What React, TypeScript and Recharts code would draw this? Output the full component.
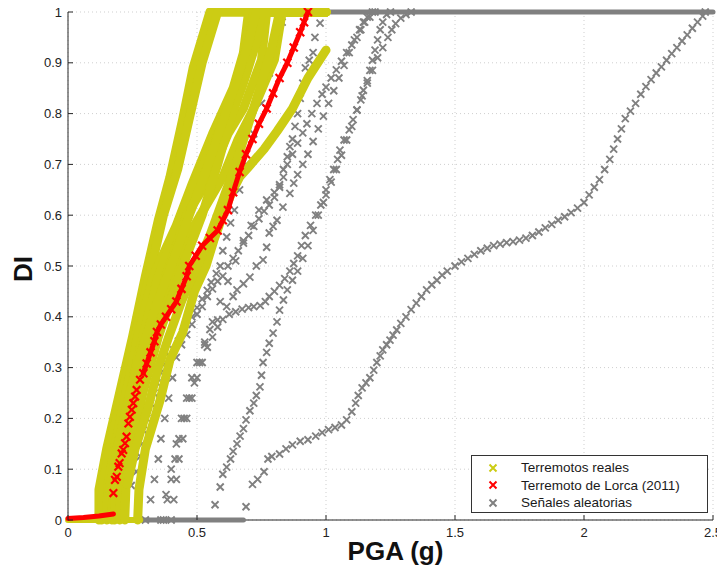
import React from 'react';
import { ScatterChart, Scatter, XAxis, YAxis, CartesianGrid } from 'recharts';

type Pt = [number, number];

// Axis ticks
const xTicks = [0, 0.5, 1, 1.5, 2, 2.5];
const yTicks = [0, 0.1, 0.2, 0.3, 0.4, 0.5, 0.6, 0.7, 0.8, 0.9, 1];

// Legend labels
const seriesNames = ['Terremotos reales', 'Terremoto de Lorca (2011)', 'Señales aleatorias'];

// Real earthquakes: DI against PGA (g)
const real1: Pt[] = [[0.12,0],[0.12,0.06],[0.15,0.14],[0.2,0.25],[0.25,0.36],[0.3,0.48],[0.35,0.59],[0.395,0.675],[0.445,0.79],[0.485,0.89],[0.55,1],[1,1]];
const real2: Pt[] = [[0.13,0],[0.135,0.07],[0.165,0.15],[0.215,0.26],[0.265,0.37],[0.315,0.48],[0.37,0.6],[0.425,0.69],[0.47,0.79],[0.52,0.9],[0.58,1],[1,1]];
const real3: Pt[] = [[0.15,0],[0.155,0.07],[0.18,0.14],[0.225,0.25],[0.27,0.36],[0.33,0.48],[0.42,0.58],[0.48,0.66],[0.56,0.76],[0.64,0.85],[0.68,0.92],[0.7,1],[1,1]];
const real4: Pt[] = [[0.17,0],[0.175,0.07],[0.2,0.14],[0.24,0.25],[0.29,0.36],[0.35,0.48],[0.43,0.59],[0.5,0.675],[0.58,0.76],[0.64,0.81],[0.69,0.906],[0.72,1],[1,1]];
const real5: Pt[] = [[0.18,0],[0.185,0.07],[0.21,0.14],[0.255,0.25],[0.31,0.36],[0.38,0.48],[0.46,0.6],[0.55,0.675],[0.62,0.76],[0.68,0.81],[0.75,0.906],[0.77,1],[1,1]];
const real6: Pt[] = [[0.2,0],[0.205,0.07],[0.23,0.14],[0.27,0.25],[0.33,0.36],[0.41,0.48],[0.49,0.58],[0.6,0.675],[0.66,0.75],[0.72,0.81],[0.8,0.906],[0.83,1],[1,1]];
const real7: Pt[] = [[0.22,0],[0.225,0.07],[0.245,0.14],[0.29,0.25],[0.35,0.36],[0.43,0.48],[0.52,0.6],[0.58,0.7],[0.63,0.79],[0.68,0.86],[0.73,0.94],[0.75,1],[1,1]];
const real8: Pt[] = [[0.27,0],[0.275,0.06],[0.3,0.14],[0.357,0.236],[0.395,0.315],[0.445,0.37],[0.49,0.45],[0.535,0.5],[0.565,0.55],[0.6,0.6],[0.635,0.645],[0.665,0.675],[0.7,0.695],[0.76,0.73],[0.81,0.765],[0.87,0.81],[0.93,0.87],[1,0.925]];
const real9: Pt[] = [[0.23,0.07],[0.26,0.14],[0.31,0.22],[0.35,0.3],[0.39,0.36],[0.44,0.43],[0.5,0.5],[0.55,0.56],[0.6,0.63],[0.65,0.7],[0.7,0.78],[0.75,0.86],[0.79,0.93],[0.82,1],[1,1]];
const real10: Pt[] = [[0.16,0.06],[0.19,0.14],[0.24,0.25],[0.29,0.34],[0.34,0.42],[0.4,0.5],[0.47,0.6],[0.53,0.68],[0.59,0.77],[0.65,0.86],[0.7,0.94],[0.73,1],[1,1]];
const realFloor: Pt[] = [[0,0],[0.28,0]];

// Lorca (2011)
const lorcaFloor: Pt[] = [[0,0.003],[0.06,0.005],[0.12,0.008],[0.176,0.012]];
const lorcaLow: Pt[] = [[0.176,0.053],[0.182,0.079],[0.189,0.085],[0.195,0.105],[0.2,0.112],[0.208,0.131],[0.214,0.138],[0.221,0.151],[0.227,0.164],[0.234,0.19],[0.24,0.203],[0.247,0.217],[0.253,0.23],[0.26,0.243],[0.266,0.256],[0.279,0.276]];
const lorcaHigh: Pt[] = [[0.292,0.289],[0.305,0.308],[0.32,0.33],[0.335,0.352],[0.345,0.37],[0.36,0.385],[0.38,0.4],[0.4,0.415],[0.42,0.43],[0.44,0.455],[0.46,0.48],[0.47,0.5],[0.495,0.52],[0.52,0.54],[0.55,0.555],[0.58,0.57],[0.6,0.59],[0.62,0.61],[0.64,0.645],[0.665,0.685],[0.69,0.72],[0.715,0.75],[0.74,0.78],[0.77,0.81],[0.795,0.84],[0.82,0.87],[0.85,0.9],[0.875,0.93],[0.9,0.96],[0.915,0.98],[0.93,1]];

// Random signals
const randFloor: Pt[] = [[0.28,0],[0.68,0]];
const randCeiling: Pt[] = [[1,1],[2.5,1]];
const randA: Pt[] = [[0.69,0.026],[0.715,0.07],[0.735,0.08],[0.76,0.095],[0.775,0.12],[0.79,0.125],[0.82,0.13],[0.845,0.14],[0.87,0.148],[0.9,0.155],[0.93,0.158],[0.96,0.165],[0.985,0.172],[1.01,0.178],[1.035,0.182],[1.06,0.187],[1.08,0.197],[1.1,0.213],[1.115,0.23],[1.125,0.245],[1.14,0.26],[1.155,0.27],[1.17,0.28],[1.185,0.295],[1.197,0.31],[1.21,0.323],[1.22,0.335],[1.235,0.345],[1.248,0.354],[1.26,0.364],[1.274,0.374],[1.29,0.387],[1.31,0.4],[1.33,0.414],[1.35,0.427],[1.37,0.44],[1.39,0.453],[1.41,0.463],[1.43,0.472],[1.45,0.482],[1.47,0.49],[1.5,0.5],[1.525,0.508],[1.55,0.515],[1.575,0.523],[1.6,0.53],[1.625,0.535],[1.65,0.54],[1.675,0.543],[1.7,0.546],[1.725,0.548],[1.75,0.551],[1.775,0.555],[1.8,0.56],[1.825,0.567],[1.85,0.575],[1.875,0.582],[1.9,0.59],[1.925,0.597],[1.95,0.605],[1.975,0.614],[2,0.625],[2.02,0.64],[2.04,0.655],[2.06,0.67],[2.08,0.69],[2.1,0.71],[2.115,0.73],[2.13,0.75],[2.145,0.77],[2.16,0.79],[2.18,0.805],[2.2,0.82],[2.22,0.838],[2.24,0.853],[2.26,0.867],[2.28,0.88],[2.3,0.892],[2.32,0.905],[2.34,0.918],[2.36,0.93],[2.38,0.943],[2.4,0.955],[2.42,0.968],[2.44,0.98],[2.46,0.992],[2.47,1]];
const randB: Pt[] = [[0.245,0.068],[0.265,0.095],[0.28,0.125],[0.287,0.15],[0.292,0.177],[0.305,0.2],[0.32,0.23],[0.333,0.25],[0.345,0.27],[0.36,0.29],[0.38,0.31],[0.395,0.322],[0.41,0.335],[0.428,0.352],[0.445,0.37],[0.46,0.385],[0.48,0.4],[0.5,0.418],[0.52,0.435],[0.54,0.452],[0.555,0.468],[0.575,0.485],[0.59,0.5],[0.6,0.53],[0.615,0.557],[0.63,0.585],[0.645,0.61],[0.665,0.65],[0.69,0.7],[0.72,0.76],[0.75,0.82],[0.78,0.88],[0.8,0.93],[0.83,0.98],[0.85,1]];
const randC: Pt[] = [[0.3,0],[0.32,0.04],[0.335,0.08],[0.35,0.12],[0.36,0.16],[0.375,0.2],[0.39,0.24],[0.405,0.28],[0.42,0.32],[0.44,0.345],[0.46,0.365],[0.48,0.385],[0.5,0.405],[0.52,0.42],[0.54,0.44],[0.56,0.455],[0.58,0.47],[0.6,0.48],[0.62,0.5],[0.64,0.515],[0.66,0.53],[0.68,0.545],[0.7,0.56],[0.72,0.578],[0.74,0.593],[0.76,0.608],[0.78,0.62],[0.8,0.635],[0.82,0.655],[0.835,0.675],[0.85,0.7],[0.87,0.72],[0.89,0.742],[0.91,0.762],[0.926,0.78],[0.945,0.8],[0.965,0.82],[0.985,0.838],[1,0.852],[1.02,0.87],[1.04,0.886],[1.06,0.903],[1.08,0.92],[1.1,0.935],[1.12,0.95],[1.135,0.965],[1.145,0.98],[1.16,0.99],[1.18,1]];
const randD: Pt[] = [[0.36,0],[0.38,0.05],[0.4,0.1],[0.42,0.15],[0.44,0.2],[0.46,0.24],[0.48,0.28],[0.5,0.31],[0.53,0.35],[0.56,0.39],[0.59,0.43],[0.62,0.47],[0.65,0.51],[0.68,0.55],[0.71,0.58],[0.74,0.61],[0.77,0.63],[0.8,0.645],[0.82,0.66],[0.835,0.69],[0.85,0.715],[0.86,0.735],[0.87,0.75],[0.88,0.775],[0.89,0.8],[0.9,0.83],[0.91,0.86],[0.92,0.89],[0.935,0.905],[0.95,0.92],[0.957,0.95],[0.977,0.978],[0.99,1]];
const randE: Pt[] = [[0.4,0],[0.41,0.04],[0.42,0.08],[0.43,0.12],[0.445,0.16],[0.46,0.2],[0.48,0.24],[0.5,0.28],[0.52,0.31],[0.54,0.34],[0.56,0.36],[0.58,0.38],[0.6,0.395],[0.625,0.405],[0.65,0.41],[0.675,0.415],[0.7,0.418],[0.72,0.42],[0.745,0.422],[0.765,0.43],[0.78,0.44],[0.8,0.45],[0.82,0.462],[0.84,0.475],[0.86,0.49],[0.875,0.505],[0.89,0.52],[0.905,0.54],[0.92,0.56],[0.94,0.58],[0.96,0.6],[0.98,0.62],[1,0.64],[1.02,0.665],[1.04,0.69],[1.06,0.718],[1.08,0.748],[1.1,0.775],[1.12,0.807],[1.14,0.835],[1.16,0.86],[1.18,0.885],[1.2,0.91],[1.22,0.93],[1.24,0.95],[1.255,0.965],[1.27,0.977],[1.29,0.988],[1.31,0.995],[1.33,1]];
const randF: Pt[] = [[0.57,0.03],[0.59,0.065],[0.6,0.09],[0.615,0.104],[0.63,0.12],[0.64,0.135],[0.655,0.15],[0.667,0.165],[0.68,0.18],[0.69,0.197],[0.705,0.215],[0.72,0.23],[0.73,0.245],[0.744,0.262],[0.75,0.285],[0.756,0.31],[0.77,0.33],[0.78,0.348],[0.795,0.368],[0.81,0.39],[0.82,0.413],[0.835,0.433],[0.85,0.453],[0.87,0.472],[0.89,0.49],[0.91,0.515],[0.93,0.54],[0.95,0.57],[0.97,0.6],[0.99,0.625],[1,0.65],[1.015,0.67],[1.03,0.69],[1.045,0.71],[1.054,0.728],[1.07,0.748],[1.09,0.768],[1.105,0.788],[1.12,0.807],[1.135,0.827],[1.145,0.846],[1.16,0.865],[1.17,0.885],[1.18,0.905],[1.19,0.925],[1.2,0.945],[1.21,0.965],[1.22,0.98],[1.235,0.995],[1.25,1]];
const randG: Pt[] = [[0.37,0],[0.385,0.04],[0.4,0.08],[0.415,0.12],[0.43,0.16],[0.45,0.2],[0.47,0.24],[0.49,0.27],[0.51,0.31],[0.53,0.345],[0.55,0.375],[0.58,0.394],[0.615,0.42],[0.64,0.44],[0.655,0.453],[0.68,0.465],[0.705,0.478],[0.73,0.5],[0.756,0.512],[0.77,0.537],[0.78,0.565],[0.795,0.578],[0.81,0.59],[0.833,0.616],[0.86,0.643],[0.875,0.663],[0.89,0.68],[0.91,0.7],[0.93,0.72],[0.95,0.745],[0.97,0.77],[0.99,0.795],[1.01,0.82],[1.03,0.845],[1.05,0.87],[1.07,0.895],[1.09,0.92],[1.11,0.945],[1.13,0.965],[1.15,0.98],[1.17,0.99],[1.19,1]];

const realCurves = [real1, real2, real3, real4, real5, real6, real7, real8, real9, real10];
const randCurves = [randA, randB, randC, randD, randE, randF, randG];

const YELLOW = '#cccc14';
const RED = '#ff0000';
const GRAY = '#808080';
const AXIS = '#262626';
const FONT = '"Liberation Sans", Arial, sans-serif';

const rows = (pts: Pt[]) => pts.map(([x, y]) => ({ x, y }));

const cross = (color: string, r: number, w: number) => (props: any) => {
  const { cx, cy } = props;
  if (cx == null || cy == null) return <g />;
  return (
    <path
      d={`M${cx - r},${cy - r}L${cx + r},${cy + r}M${cx + r},${cy - r}L${cx - r},${cy + r}`}
      stroke={color}
      strokeWidth={w}
      fill="none"
    />
  );
};
const noMark = () => <g />;

const band = (color: string, width: number) => ({
  stroke: color,
  strokeWidth: width,
  strokeLinejoin: 'round' as const,
  strokeLinecap: 'round' as const,
  fill: 'none',
});

const BottomTick = (p: any) => (
  <g>
    <line x1={p.x} x2={p.x} y1={p.y} y2={p.y - 5} stroke={AXIS} />
    <text x={p.x} y={p.y + 17} textAnchor="middle" fontSize={13} fill="#222" fontFamily={FONT}>
      {String(p.payload.value)}
    </text>
  </g>
);
const LeftTick = (p: any) => (
  <g>
    <line x1={p.x} x2={p.x + 5} y1={p.y} y2={p.y} stroke={AXIS} />
    <text x={p.x - 6} y={p.y + 4.5} textAnchor="end" fontSize={13} fill="#222" fontFamily={FONT}>
      {String(p.payload.value)}
    </text>
  </g>
);
const TopTick = (p: any) => <line x1={p.x} x2={p.x} y1={p.y} y2={p.y + 5} stroke={AXIS} />;
const RightTick = (p: any) => <line x1={p.x} x2={p.x - 5} y1={p.y} y2={p.y} stroke={AXIS} />;

const XTitle = (p: any) => {
  const vb = p.viewBox;
  return (
    <text x={vb.x + vb.width / 2 + 5} y={vb.y + 40} textAnchor="middle" fontSize={26} fontWeight="bold" fill="#111" fontFamily={FONT}>
      PGA (g)
    </text>
  );
};
const YTitle = (p: any) => {
  const vb = p.viewBox;
  const cy = vb.y + vb.height / 2 + 3;
  return (
    <text x={15} y={cy} transform={`rotate(-90 15 ${cy})`} textAnchor="middle" dominantBaseline="central" fontSize={26} fontWeight="bold" fill="#111" fontFamily={FONT}>
      DI
    </text>
  );
};

const LegendMark = ({ color }: { color: string }) => (
  <svg width={10} height={10} style={{ display: 'block' }}>
    <path d="M1.5,1.5L8.5,8.5M8.5,1.5L1.5,8.5" stroke={color} strokeWidth={2} fill="none" />
  </svg>
);

export default function App() {
  const legendColors = [YELLOW, RED, GRAY];
  return (
    <div style={{ position: 'relative', width: 717, height: 558 }}>
      <style>{'.recharts-surface{overflow:visible}'}</style>
      <ScatterChart width={717} height={558} margin={{ top: 4, right: 12, bottom: 0, left: 0 }}>
        <CartesianGrid stroke="#cfcfcf" strokeDasharray="1 3" />
        <XAxis
          type="number"
          dataKey="x"
          domain={[0, 2.5]}
          ticks={xTicks}
          interval={0}
          height={46}
          tickSize={0}
          tickMargin={0}
          tickLine={false}
          axisLine={{ stroke: AXIS }}
          tick={BottomTick}
          label={XTitle}
        />
        <YAxis
          type="number"
          dataKey="y"
          domain={[0, 1]}
          ticks={yTicks}
          interval={0}
          width={60}
          tickSize={0}
          tickMargin={0}
          tickLine={false}
          axisLine={{ stroke: AXIS }}
          tick={LeftTick}
          label={YTitle}
        />
        <XAxis xAxisId="top" orientation="top" type="number" dataKey="x" domain={[0, 2.5]} ticks={xTicks} interval={0} height={0} tickSize={0} tickMargin={0} tickLine={false} axisLine={{ stroke: AXIS }} tick={TopTick} />
        <YAxis yAxisId="right" orientation="right" type="number" dataKey="y" domain={[0, 1]} ticks={yTicks} interval={0} width={0} tickSize={0} tickMargin={0} tickLine={false} axisLine={{ stroke: AXIS }} tick={RightTick} />

        {/* random signals */}
        <Scatter data={rows(randFloor)} dataKey="y" shape={noMark} line={band(GRAY, 5)} isAnimationActive={false} />
        <Scatter data={rows(randCeiling)} dataKey="y" shape={noMark} line={band(GRAY, 5)} isAnimationActive={false} />
        {randCurves.map((c, i) => (
          <Scatter key={`r${i}`} data={rows(c)} dataKey="y" shape={cross(GRAY, 3.5, 1.9)} isAnimationActive={false} />
        ))}

        {/* real earthquakes */}
        <Scatter data={rows(realFloor)} dataKey="y" shape={noMark} line={band(YELLOW, 6)} isAnimationActive={false} />
        {realCurves.map((c, i) => (
          <Scatter key={`e${i}`} data={rows(c)} dataKey="y" shape={noMark} line={band(YELLOW, 9)} isAnimationActive={false} />
        ))}

        {/* Lorca 2011 */}
        <Scatter data={rows(lorcaFloor)} dataKey="y" shape={noMark} line={band(RED, 5)} isAnimationActive={false} />
        <Scatter data={rows(lorcaLow)} dataKey="y" shape={cross(RED, 3.8, 2.2)} isAnimationActive={false} />
        <Scatter data={rows(lorcaHigh)} dataKey="y" shape={cross(RED, 4, 2.2)} line={band(RED, 5)} isAnimationActive={false} />
      </ScatterChart>

      <div
        style={{
          position: 'absolute',
          left: 463,
          top: 447,
          width: 235,
          height: 56,
          border: '1px solid #333',
          background: '#fff',
          fontFamily: FONT,
          fontSize: 13.5,
          color: '#1a1a1a',
        }}
      >
        {seriesNames.map((name, i) => (
          <div key={name} style={{ position: 'absolute', left: 0, top: 3 + i * 17.5, height: 17, display: 'flex', alignItems: 'center' }}>
            <div style={{ width: 26, display: 'flex', justifyContent: 'flex-end' }}>
              <LegendMark color={legendColors[i]} />
            </div>
            <span style={{ marginLeft: 23, whiteSpace: 'nowrap' }}>{name}</span>
          </div>
        ))}
      </div>
    </div>
  );
}
